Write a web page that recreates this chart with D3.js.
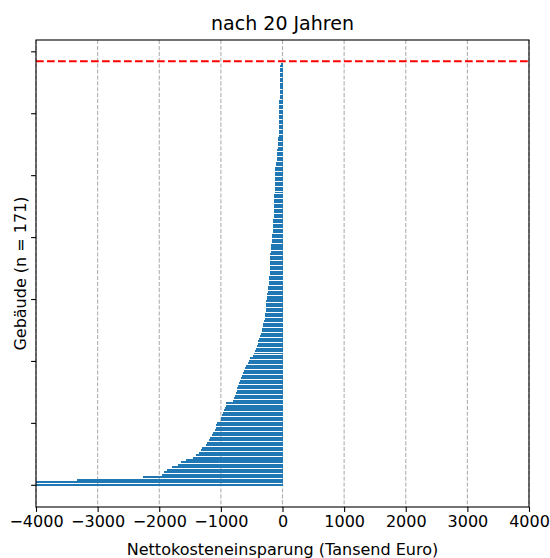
<!DOCTYPE html>
<html>
<head>
<meta charset="utf-8">
<script src="https://cdn.jsdelivr.net/npm/d3@7"></script>
<style>
  body { margin: 0; background: #fff; }
  text { font-family: "DejaVu Sans", sans-serif; }
</style>
</head>
<body>
<svg></svg>
<script>
var width  = 550,
    height = 558,
    margin = {top: 40, right: 21, bottom: 51, left: 36};

// Nettokosteneinsparung je Gebäude (Tausend Euro), aufsteigend sortiert
var savings = [
  -4300, -4050, -3340, -2270, -1950, -1915, -1880, -1790, -1700, -1645,
  -1560, -1460, -1400, -1355, -1330, -1310, -1240, -1225, -1190, -1175,
  -1140, -1120, -1095, -1085, -1075, -1070, -1000, -990, -985, -960,
  -945, -935, -920, -910, -810, -790, -765, -755, -740, -735,
  -720, -710, -690, -670, -660, -645, -630, -615, -590, -560,
  -550, -535, -480, -470, -440, -430, -415, -400, -395, -375,
  -360, -350, -330, -325, -315, -310, -300, -290, -285, -280,
  -275, -272, -268, -265, -262, -258, -255, -250, -242, -238,
  -230, -222, -218, -215, -212, -210, -208, -206, -204, -202,
  -200, -199, -197, -195, -192, -190, -185, -180, -176, -172,
  -170, -165, -160, -158, -155, -152, -150, -148, -145, -142,
  -140, -140, -138, -138, -137, -136, -135, -130, -128, -126,
  -125, -123, -122, -121, -120, -119, -118, -116, -115, -110,
  -100, -90, -86, -85, -84, -82, -80, -78, -76, -74,
  -65, -62, -60, -60, -59, -58, -57, -56, -55, -54,
  -53, -52, -51, -50, -50, -49, -48, -47, -46, -46,
  -45, -44, -43, -42, -41, -40, -39, -38, -36, -34,
  -30
];
var n = savings.length;
var xTicks = [-4000, -3000, -2000, -1000, 0, 1000, 2000, 3000, 4000];
var yTicks = [0, 25, 50, 75, 100, 125, 150, 175];

var svg = d3.select('svg')
  .attr("width", width)
  .attr("height", height);

var x = d3.scaleLinear()
  .domain([-4000, 4000])
  .range([margin.left, width - margin.right]);
var y = d3.scaleLinear()
  .domain([-8.97, 179.57])
  .range([height - margin.bottom, margin.top]);

svg.append("clipPath").attr("id", "clip")
  .append("rect")
  .attr("x", margin.left).attr("y", margin.top)
  .attr("width", width - margin.left - margin.right)
  .attr("height", height - margin.top - margin.bottom);

// grid
svg.append("g")
  .selectAll("line")
  .data(xTicks)
  .enter()
    .append("line")
    .attr("x1", function(d){return x(d);})
    .attr("x2", function(d){return x(d);})
    .attr("y1", margin.top)
    .attr("y2", height - margin.bottom)
    .attr("stroke", "#b0b0b0")
    .attr("stroke-width", 1.1)
    .attr("stroke-dasharray", "4.1,1.8");

// bars
var bh = Math.abs(y(0.8) - y(0));
svg.append("g")
  .attr("clip-path", "url(#clip)")
  .attr("shape-rendering", "crispEdges")
  .selectAll("rect")
  .data(savings)
  .enter()
    .append("rect")
    .attr("x", function(d){return x(Math.min(0, d));})
    .attr("width", function(d){return Math.abs(x(d) - x(0));})
    .attr("y", function(d, i){return y(i + 0.4);})
    .attr("height", bh)
    .attr("fill", "#1f77b4");

// red dashed line at n
svg.append("line")
  .attr("x1", margin.left)
  .attr("x2", width - margin.right)
  .attr("y1", y(n))
  .attr("y2", y(n))
  .attr("stroke", "red")
  .attr("stroke-width", 2.1)
  .attr("stroke-dasharray", "7.7,3.3");

// axes
var xAxis = svg.append("g")
  .attr("transform", "translate(0," + (height - margin.bottom) + ")")
  .call(d3.axisBottom(x).tickValues(xTicks).tickFormat(d3.format("d"))
    .tickSize(4.9).tickPadding(4).tickSizeOuter(0));
xAxis.selectAll("text").attr("font-size", "16px").attr("fill", "#000")
  .style("font-family", "DejaVu Sans");

var yAxis = svg.append("g")
  .attr("transform", "translate(" + margin.left + ",0)")
  .call(d3.axisLeft(y).tickValues(yTicks).tickSize(4.9).tickFormat("").tickSizeOuter(0));

svg.selectAll(".domain").remove();
svg.selectAll(".tick line").attr("stroke", "#000").attr("stroke-width", 1.1);

// frame
svg.append("rect")
  .attr("x", margin.left).attr("y", margin.top)
  .attr("width", width - margin.left - margin.right)
  .attr("height", height - margin.top - margin.bottom)
  .attr("fill", "none")
  .attr("stroke", "#000")
  .attr("stroke-width", 1.1);

// labels
svg.append("text")
  .attr("x", (margin.left + width - margin.right) / 2)
  .attr("y", 30)
  .attr("text-anchor", "middle")
  .attr("font-size", "19px")
  .text("nach 20 Jahren");

svg.append("text")
  .attr("x", (margin.left + width - margin.right) / 2)
  .attr("y", 555)
  .attr("text-anchor", "middle")
  .attr("font-size", "16px")
  .text("Nettokosteneinsparung (Tansend Euro)");

svg.append("text")
  .attr("transform", "translate(26," + ((margin.top + height - margin.bottom) / 2) + ") rotate(-90)")
  .attr("text-anchor", "middle")
  .attr("font-size", "16px")
  .text("Gebäude (n = 171)");
</script>
</body>
</html>
